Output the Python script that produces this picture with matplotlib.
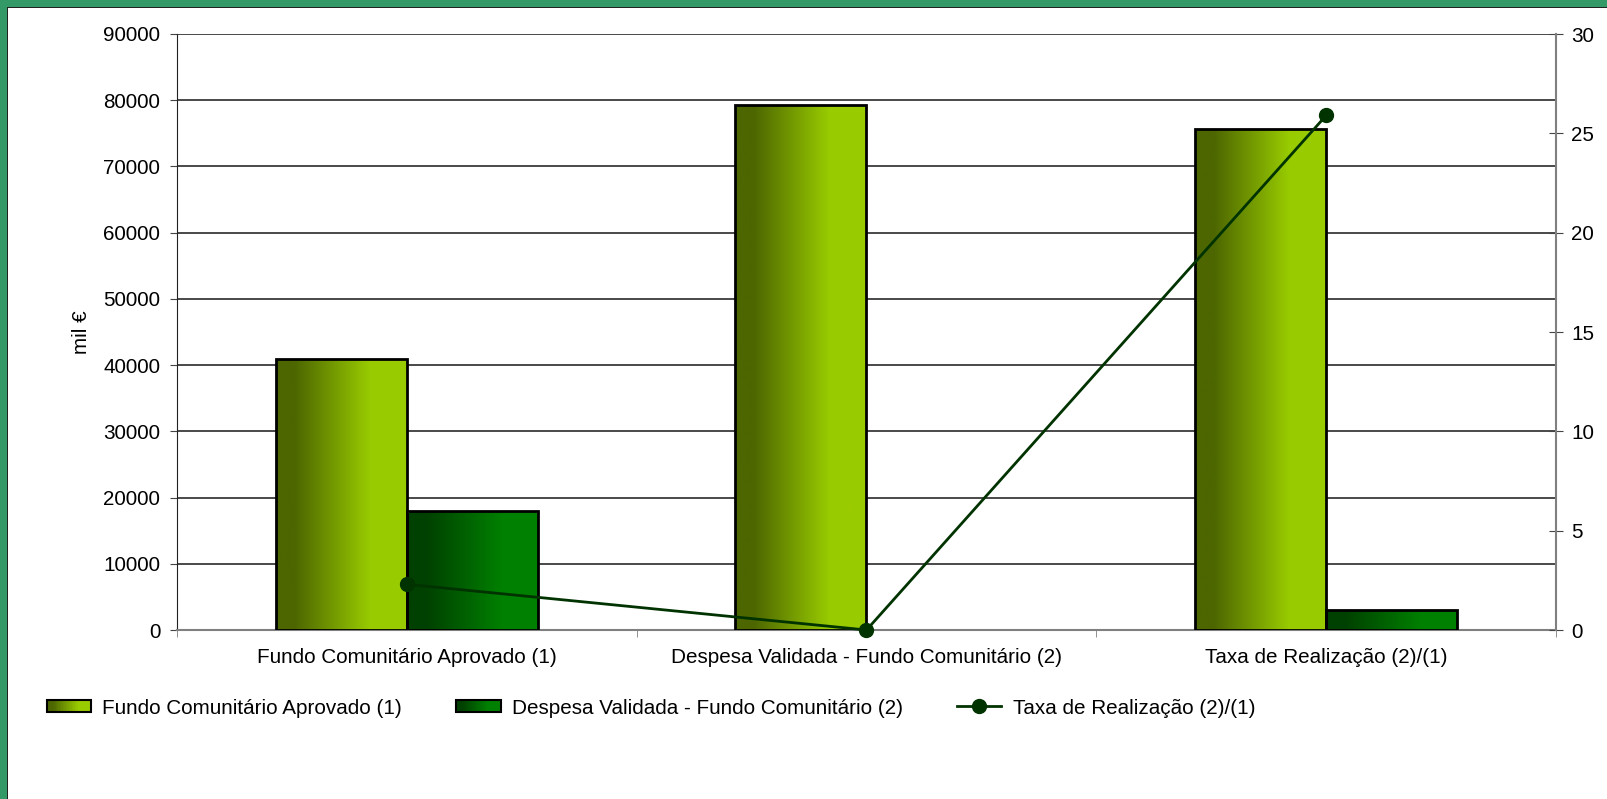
import numpy as np
import matplotlib
matplotlib.use('Agg')
import matplotlib.pyplot as plt
from matplotlib.colors import LinearSegmentedColormap
from matplotlib.patches import Rectangle
from matplotlib.legend_handler import HandlerBase
from matplotlib.lines import Line2D

plt.rcParams['font.family'] = ['Liberation Sans', 'DejaVu Sans']

# data
categories = ['Fundo Comunitário Aprovado (1)',
              'Despesa Validada - Fundo Comunitário (2)',
              'Taxa de Realização (2)/(1)']
fundo_aprovado = [40900, 79300, 75600]
despesa_validada = [17900, 0, 3000]
taxa_realizacao = [2.3, 0.0, 25.9]

series_names = ['Fundo Comunitário Aprovado (1)',
                'Despesa Validada - Fundo Comunitário (2)',
                'Taxa de Realização (2)/(1)']

cmap1 = LinearSegmentedColormap.from_list(
    'g1', [(0, '#4d6600'), (0.14, '#4d6600'), (0.72, '#99cc00'), (1, '#99cc00')])
cmap2 = LinearSegmentedColormap.from_list(
    'g2', [(0, '#004000'), (0.14, '#004000'), (0.72, '#008000'), (1, '#008000')])
line_col = '#003300'
FS = 14.9

fig = plt.figure(figsize=(16.08, 7.99), dpi=100)
fig.patch.set_facecolor('white')

# green frame (top + left)
W, H = 1608, 799
fig.patches.append(Rectangle((0, 0), 7 / W, 1, transform=fig.transFigure,
                             facecolor='#339966', edgecolor='none', zorder=0))
fig.patches.append(Rectangle((0, 1 - 7 / H), 1, 7 / H, transform=fig.transFigure,
                             facecolor='#339966', edgecolor='none', zorder=0))
fig.patches.append(Rectangle((7 / W, 0), 1.2 / W, 1 - 7 / H, transform=fig.transFigure,
                             facecolor='#222222', edgecolor='none', zorder=0))
fig.patches.append(Rectangle((7 / W, 1 - 8.2 / H), 1, 1.2 / H, transform=fig.transFigure,
                             facecolor='#222222', edgecolor='none', zorder=0))

ax = fig.add_axes([177 / W, 1 - 630 / H, (1556 - 177) / W, (630 - 34) / H])
ax.set_facecolor('none')

x = np.arange(len(categories))
bw = 0.285
grad = np.linspace(0, 1, 256).reshape(1, -1)


def gradient_bars(xpos, vals, cmap):
    bars = ax.bar(xpos, vals, width=bw, facecolor='none', edgecolor='black',
                  linewidth=2, zorder=4)
    for r, v in zip(bars, vals):
        if v <= 0:
            r.set_visible(False)
            continue
        x0, y0 = r.get_x(), r.get_y()
        im = ax.imshow(grad, cmap=cmap, aspect='auto', zorder=3,
                       extent=(x0, x0 + r.get_width(), y0, y0 + r.get_height()))
        im.set_clip_path(r)
    return bars


gradient_bars(x - bw / 2, fundo_aprovado, cmap1)
gradient_bars(x + bw / 2, despesa_validada, cmap2)

ax.set_xlim(-0.5, len(categories) - 0.5)
ax.set_ylim(0, 90000)
ax.set_yticks(np.arange(0, 90001, 10000))
ax.yaxis.grid(True, color='#3a3a3a', linewidth=1.3)
ax.set_axisbelow(True)
ax.set_xticks(x)
ax.set_xticklabels(categories, fontsize=FS)
ax.set_xticks(np.arange(-0.5, len(categories), 1), minor=True)
ax.tick_params(axis='x', which='major', length=0, pad=13)
ax.tick_params(axis='x', which='minor', length=5, direction='out', color='#808080')
ax.tick_params(axis='y', labelsize=FS, length=5, direction='out', color='#444444', pad=7)
ax.set_ylabel('mil €', fontsize=FS, labelpad=9)
for s in ['top', 'right']:
    ax.spines[s].set_visible(False)
ax.spines['left'].set_color('#222222')
ax.spines['bottom'].set_color('#808080')
ax.spines['bottom'].set_linewidth(1.5)

ax2 = ax.twinx()
ax2.plot(x, taxa_realizacao, color=line_col, linewidth=2, marker='o',
         markersize=10, zorder=6, clip_on=False)
ax2.set_ylim(0, 30)
ax2.set_yticks(np.arange(0, 31, 5))
ax2.tick_params(axis='y', labelsize=FS, length=10, direction='inout', color='#444444', pad=6)
for s in ['top', 'left', 'bottom']:
    ax2.spines[s].set_visible(False)
ax2.spines['right'].set_color('#808080')
ax2.spines['right'].set_linewidth(1.5)


class GradHandler(HandlerBase):
    def __init__(self, cmap):
        super().__init__()
        self.cmap = cmap

    def create_artists(self, legend, orig_handle, xdescent, ydescent, width, height,
                       fontsize, trans):
        arts = []
        n = 30
        hh = height * 0.8
        y0 = -ydescent + (height - hh) / 2
        for i in range(n):
            arts.append(Rectangle((-xdescent + width * i / n, y0), width / n * 1.05, hh,
                                  facecolor=self.cmap((i + 0.5) / n), edgecolor='none',
                                  transform=trans))
        arts.append(Rectangle((-xdescent, y0), width, hh, facecolor='none',
                              edgecolor='black', linewidth=1.5, transform=trans))
        return arts


h1 = Rectangle((0, 0), 1, 1)
h2 = Rectangle((0, 0), 1, 1)
h3 = Line2D([], [], color=line_col, linewidth=2, marker='o', markersize=10)
fig.legend([h1, h2, h3], series_names, loc='center left',
           bbox_to_anchor=(28 / W, 1 - 708 / H), ncol=3, frameon=False,
           fontsize=FS, handlelength=2.15, handletextpad=0.55, columnspacing=2.6,
           handler_map={h1: GradHandler(cmap1), h2: GradHandler(cmap2)})

plt.savefig('out.png', dpi=100, facecolor='white')
